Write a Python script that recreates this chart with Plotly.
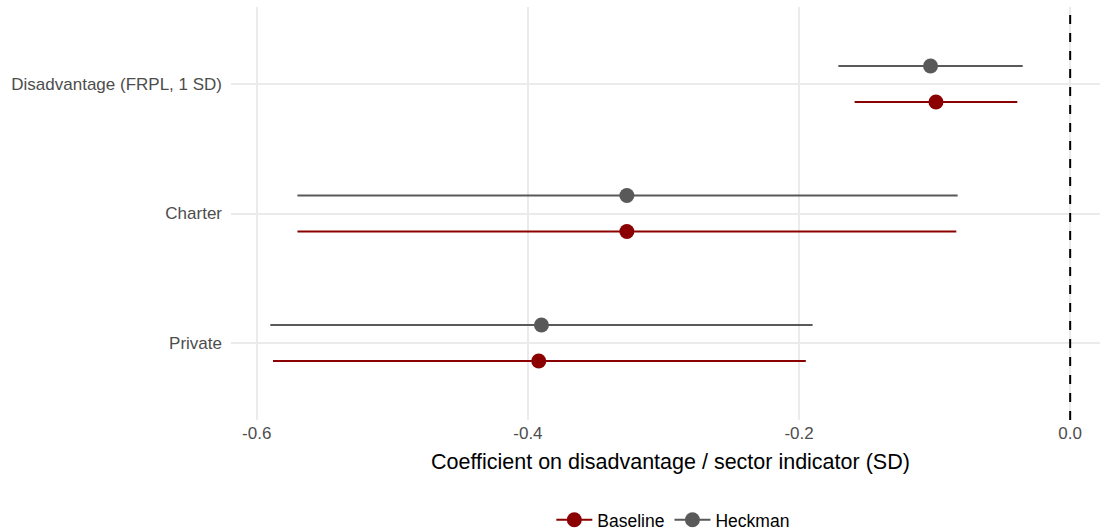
import plotly.graph_objects as go

categories = ["Private", "Charter", "Disadvantage (FRPL, 1 SD)"]
baseline_est = [-0.392, -0.327, -0.099]
baseline_lo = [-0.588, -0.570, -0.159]
baseline_hi = [-0.195, -0.084, -0.039]
heckman_est = [-0.390, -0.327, -0.103]
heckman_lo = [-0.590, -0.570, -0.171]
heckman_hi = [-0.190, -0.083, -0.035]
x_ticks = [-0.6, -0.4, -0.2, 0.0]
x_tick_labels = ["-0.6", "-0.4", "-0.2", "0.0"]
x_title = "Coefficient on disadvantage / sector indicator (SD)"

BASE_COL = "#8B0000"
HECK_COL = "#595959"
offset = 0.139

fig = go.Figure()

def add_series(name, est, lo, hi, color, dy):
    ys = [i + dy for i in range(len(categories))]
    fig.add_trace(go.Scatter(
        x=est, y=ys, mode="markers", name=name, showlegend=False,
        marker=dict(size=15, color=color),
        error_x=dict(type="data", symmetric=False,
                     array=[h - e for h, e in zip(hi, est)],
                     arrayminus=[e - l for e, l in zip(est, lo)],
                     color=color, thickness=2, width=0),
    ))
    fig.add_trace(go.Scatter(
        x=[None], y=[None], mode="lines+markers", name=name,
        line=dict(color=color, width=2), marker=dict(size=15, color=color),
    ))

add_series("Baseline", baseline_est, baseline_lo, baseline_hi, BASE_COL, -offset)
add_series("Heckman", heckman_est, heckman_lo, heckman_hi, HECK_COL, offset)

fig.add_shape(type="line", xref="x", yref="paper", x0=0, x1=0, y0=0, y1=1,
              line=dict(color="black", width=2, dash="dash"))

fig.add_annotation(text=x_title, xref="paper", yref="paper", x=0.506, y=-0.1017,
                   xanchor="center", yanchor="middle", showarrow=False,
                   font=dict(size=21.5, color="black"))

fig.update_layout(
    width=1102, height=531,
    margin=dict(l=231, r=2, t=7, b=111, autoexpand=False),
    paper_bgcolor="white", plot_bgcolor="white",
    font=dict(family="Liberation Sans, Arial, sans-serif", size=17, color="#4d4d4d"),
    xaxis=dict(range=[-0.619, 0.022], tickvals=x_ticks, ticktext=x_tick_labels,
               showgrid=True, gridcolor="#ebebeb", gridwidth=1.5, zeroline=False,
               automargin=False,
               ticks="", ticklabelstandoff=1, tickfont=dict(size=17, color="#4d4d4d")),
    yaxis=dict(range=[-0.595, 2.595], tickvals=[0, 1, 2], ticktext=categories,
               showgrid=True, gridcolor="#ebebeb", gridwidth=1.5, zeroline=False,
               automargin=False,
               ticks="", ticklabelstandoff=8, tickfont=dict(size=17, color="#4d4d4d")),
    legend=dict(orientation="h", x=0.509, xanchor="center", y=-0.242, yanchor="middle",
                font=dict(size=17.5, color="black"), itemwidth=36),
    showlegend=True,
)

fig.write_html("out.html", config={"displayModeBar": False},
               post_script="document.body.style.margin='0px';")
